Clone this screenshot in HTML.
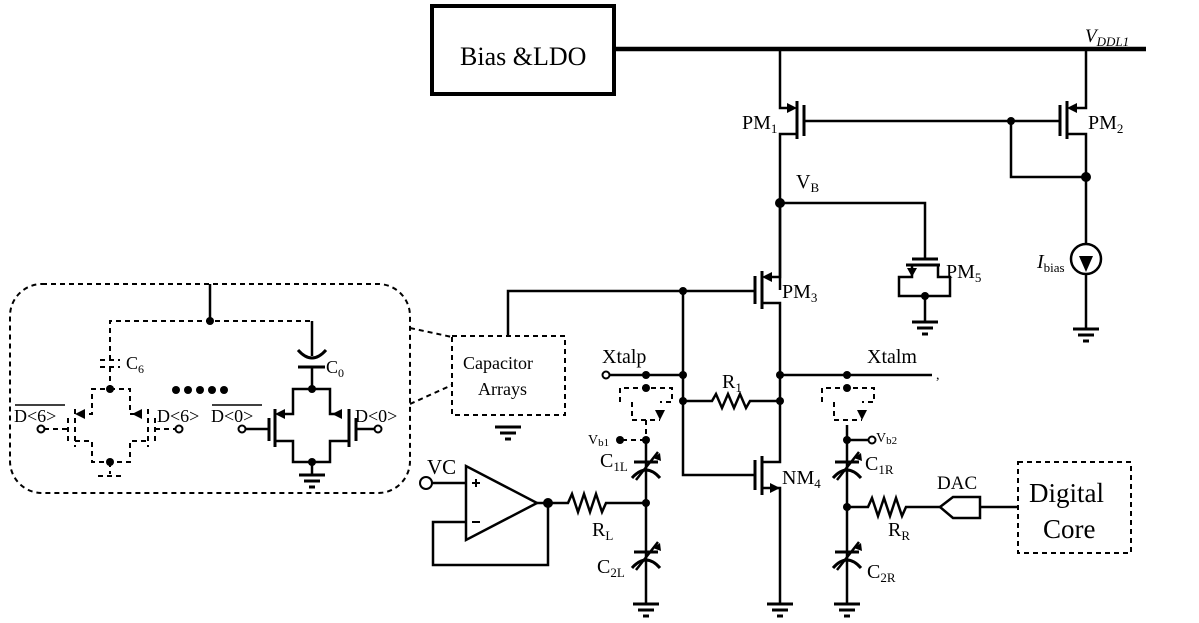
<!DOCTYPE html>
<html><head><meta charset="utf-8"><style>
html,body{margin:0;padding:0;background:#fff;}
svg{display:block;}
text{font-family:"Liberation Serif",serif;fill:#000;}
</style></head><body>
<svg width="1199" height="623" viewBox="0 0 1199 623" xmlns="http://www.w3.org/2000/svg">
<defs>
<g id="gnd"><line x1="-13" y1="0" x2="13" y2="0" stroke="#000" stroke-width="3"/><line x1="-8" y1="6" x2="8" y2="6" stroke="#000" stroke-width="3"/><line x1="-3" y1="12" x2="3" y2="12" stroke="#000" stroke-width="3"/></g>
</defs>
<g fill="none" stroke="#000" stroke-width="2.5">
<rect x="432" y="6" width="182" height="88" stroke-width="4"/>
<line x1="614" y1="49" x2="1146" y2="49" stroke-width="4.5"/>
<polyline points="780,49 780,108 792,108"/>
<line x1="797" y1="101" x2="797" y2="139" stroke-width="3"/>
<line x1="804" y1="105" x2="804" y2="136" stroke-width="3"/>
<polyline points="797,134 780,134 780,290"/>
<line x1="804" y1="121" x2="1060" y2="121"/>
<polyline points="1086,49 1086,108 1074,108"/>
<line x1="1067" y1="101" x2="1067" y2="139" stroke-width="3"/>
<line x1="1060" y1="105" x2="1060" y2="136" stroke-width="3"/>
<polyline points="1067,134 1086,134 1086,244"/>
<polyline points="1011,121 1011,177 1086,177"/>
<circle cx="1086" cy="259" r="15"/>
<line x1="1086" y1="274" x2="1086" y2="328"/>
<polyline points="780,203 925,203 925,259"/>
<line x1="912" y1="259" x2="938" y2="259" stroke-width="3"/>
<line x1="906" y1="265" x2="940" y2="265" stroke-width="3"/>
<polyline points="912,265 912,277 899,277 899,296 950,296 950,277 938,277 938,265"/>
<line x1="925" y1="296" x2="925" y2="321"/>
<polyline points="780,203 780,277 768,277"/>
<line x1="762" y1="271" x2="762" y2="309" stroke-width="3"/>
<line x1="755" y1="276" x2="755" y2="304" stroke-width="3"/>
<polyline points="762,303 780,303 780,462 762,462"/>
<polyline points="508,336 508,291 755,291"/>
<line x1="762" y1="456" x2="762" y2="495" stroke-width="3"/>
<line x1="755" y1="460" x2="755" y2="490" stroke-width="3"/>
<polyline points="762,488 780,488 780,603"/>
<polyline points="683,291 683,475 755,475"/>
<line x1="610" y1="375" x2="683" y2="375"/>
<line x1="780" y1="375" x2="932" y2="375"/>
<polyline points="683,401 712,401 716,394 722,408 728,394 734,408 740,394 746,408 750,401 780,401"/>
<line x1="646" y1="440" x2="646" y2="603"/>
<line x1="634" y1="462" x2="658" y2="462" stroke-width="3"/>
<path d="M632,478 Q646,462 660,478" stroke-width="3"/>
<line x1="636" y1="480" x2="658" y2="452"/>
<line x1="634" y1="552" x2="658" y2="552" stroke-width="3"/>
<path d="M632,568 Q646,552 660,568" stroke-width="3"/>
<line x1="636" y1="570" x2="658" y2="542"/>
<polyline points="550,503 568,503 572,494 578,512 584,494 590,512 596,494 602,512 606,503 646,503"/>
<line x1="847" y1="425" x2="847" y2="603"/>
<line x1="847" y1="440" x2="868" y2="440"/>
<line x1="835" y1="462" x2="859" y2="462" stroke-width="3"/>
<path d="M833,478 Q847,462 861,478" stroke-width="3"/>
<line x1="837" y1="480" x2="859" y2="452"/>
<line x1="835" y1="552" x2="859" y2="552" stroke-width="3"/>
<path d="M833,568 Q847,552 861,568" stroke-width="3"/>
<line x1="837" y1="570" x2="859" y2="542"/>
<polyline points="847,507 868,507 872,498 878,516 884,498 890,516 896,498 902,516 906,507 940,507"/>
<polygon points="940,507 953,497 980,497 980,518 953,518"/>
<line x1="980" y1="507" x2="1018" y2="507"/>
<polygon points="466,466 466,540 537,503"/>
<line x1="431" y1="483" x2="466" y2="483"/>
<line x1="537" y1="503" x2="550" y2="503"/>
<polyline points="548,503 548,565 433,565 433,522 466,522"/>
<line x1="472" y1="483" x2="480" y2="483" stroke-width="2"/><line x1="476" y1="479" x2="476" y2="487" stroke-width="2"/>
<line x1="472" y1="522" x2="480" y2="522" stroke-width="2"/>
<line x1="210" y1="284" x2="210" y2="321"/>
<line x1="312" y1="321" x2="312" y2="356"/>
<path d="M298,350 Q312,366 326,350" stroke-width="3"/>
<line x1="298" y1="367" x2="325" y2="367" stroke-width="3"/>
<polyline points="312,367 312,389 293,389 293,414 283,414"/>
<polyline points="312,389 330,389 330,414 341,414"/>
<line x1="275" y1="409" x2="275" y2="447" stroke-width="3"/>
<line x1="269" y1="418" x2="269" y2="441" stroke-width="3"/>
<line x1="246" y1="429" x2="269" y2="429"/>
<polyline points="275,441 293,441 293,462 330,462 330,441 349,441"/>
<line x1="349" y1="409" x2="349" y2="447" stroke-width="3"/>
<line x1="356" y1="418" x2="356" y2="441" stroke-width="3"/>
<line x1="356" y1="429" x2="375" y2="429"/>
<line x1="312" y1="462" x2="312" y2="474"/>
</g>
<g fill="none" stroke="#000" stroke-width="2" stroke-dasharray="5,4">
<rect x="10" y="284" width="400" height="209" rx="32"/>
<line x1="410" y1="328" x2="452" y2="337"/>
<line x1="410" y1="404" x2="452" y2="385"/>
<rect x="452" y="336" width="113" height="79"/>
<polyline points="110,360 110,321 312,321"/>
<line x1="100" y1="360" x2="120" y2="360"/>
<line x1="100" y1="367" x2="120" y2="367"/>
<polyline points="110,367 110,389 92,389 92,414 82,414"/>
<polyline points="110,389 130,389 130,414 140,414"/>
<line x1="75" y1="409" x2="75" y2="447"/>
<line x1="68" y1="418" x2="68" y2="441"/>
<line x1="44" y1="429" x2="68" y2="429"/>
<polyline points="75,441 92,441 92,462 130,462 130,441 148,441"/>
<line x1="148" y1="409" x2="148" y2="447"/>
<line x1="155" y1="418" x2="155" y2="441"/>
<line x1="155" y1="429" x2="176" y2="429"/>
<line x1="110" y1="462" x2="110" y2="474"/>
<line x1="98" y1="476" x2="122" y2="476"/>
<rect x="1018" y="462" width="113" height="91"/>
<polyline points="620,402 620,388 672,388 672,402 660,402"/>
<polyline points="632,402 632,420 660,420"/>
<line x1="646" y1="420" x2="646" y2="440"/>
<line x1="622" y1="440" x2="646" y2="440"/>
<polyline points="822,402 822,388 874,388 874,402 862,402"/>
<polyline points="834,402 834,420 862,420"/>
</g>
<g fill="#000">
<polygon points="797,108 787,103 787,113"/>
<polygon points="1067,108 1077,103 1077,113"/>
<polygon points="762,277 772,272 772,282"/>
<polygon points="780,488 770,483 770,493"/>
<polygon points="912,277 907,268 917,268"/>
<polygon points="1086,272 1079,256 1093,256"/>
<polygon points="660,453 653,458 661,461"/>
<polygon points="861,453 854,458 862,461"/>
<polygon points="660,543 653,548 661,551"/>
<polygon points="861,543 854,548 862,551"/>
<polygon points="275,414 285,409 285,419"/>
<polygon points="332,414 342,409 342,419"/>
<polygon points="75,414 85,409 85,419"/>
<polygon points="132,414 142,409 142,419"/>
<polygon points="660,420 655,410 665,410"/>
<polygon points="862,420 857,410 867,410"/>
</g>
<g fill="#000">
<circle cx="780" cy="203" r="5"/><circle cx="1011" cy="121" r="4"/><circle cx="1086" cy="177" r="5"/>
<circle cx="925" cy="296" r="4"/><circle cx="683" cy="291" r="4"/><circle cx="683" cy="375" r="4"/>
<circle cx="683" cy="401" r="4"/><circle cx="780" cy="375" r="4"/><circle cx="780" cy="401" r="4"/>
<circle cx="646" cy="375" r="4"/><circle cx="646" cy="388" r="4"/><circle cx="646" cy="440" r="4"/>
<circle cx="620" cy="440" r="4"/><circle cx="646" cy="503" r="4"/>
<circle cx="847" cy="375" r="4"/><circle cx="847" cy="388" r="4"/><circle cx="847" cy="440" r="4"/>
<circle cx="847" cy="507" r="4"/><circle cx="548" cy="503" r="5"/>
<circle cx="210" cy="321" r="4"/><circle cx="312" cy="389" r="4"/><circle cx="312" cy="462" r="4"/>
<circle cx="110" cy="389" r="4"/><circle cx="110" cy="462" r="4"/>
<circle cx="176" cy="390" r="4"/><circle cx="188" cy="390" r="4"/><circle cx="200" cy="390" r="4"/><circle cx="212" cy="390" r="4"/><circle cx="224" cy="390" r="4"/>
</g>
<g fill="#fff" stroke="#000" stroke-width="2">
<circle cx="606" cy="375" r="3.5"/><circle cx="872" cy="440" r="3.5"/>
<circle cx="426" cy="483" r="6"/><circle cx="242" cy="429" r="3.5"/><circle cx="378" cy="429" r="3.5"/>
<circle cx="41" cy="429" r="3.5"/><circle cx="179" cy="429" r="3.5"/>
</g>
<text x="936" y="379" font-size="14">,</text>
<use href="#gnd" x="1086" y="329"/><use href="#gnd" x="925" y="322"/><use href="#gnd" x="780" y="604"/>
<use href="#gnd" x="646" y="604"/><use href="#gnd" x="847" y="604"/><use href="#gnd" x="508" y="427"/>
<use href="#gnd" x="312" y="475"/>
<text x="460" y="65" font-size="26">Bias &amp;LDO</text>
<text x="1085" y="42" font-size="19" font-style="italic" font-family="Liberation Sans,sans-serif">V<tspan font-size="13" dy="4">DDL1</tspan></text>
<text x="742" y="129" font-size="20">PM<tspan font-size="13" dy="4">1</tspan></text>
<text x="1088" y="129" font-size="20">PM<tspan font-size="13" dy="4">2</tspan></text>
<text x="796" y="188" font-size="20">V<tspan font-size="13" dy="4">B</tspan></text>
<text x="782" y="298" font-size="20">PM<tspan font-size="13" dy="4">3</tspan></text>
<text x="946" y="278" font-size="20">PM<tspan font-size="13" dy="4">5</tspan></text>
<text x="1037" y="268" font-size="20"><tspan font-style="italic">I</tspan><tspan font-size="13" dy="4">bias</tspan></text>
<text x="782" y="484" font-size="20">NM<tspan font-size="13" dy="4">4</tspan></text>
<text x="722" y="388" font-size="20">R<tspan font-size="13" dy="4">1</tspan></text>
<text x="602" y="363" font-size="20">Xtalp</text>
<text x="867" y="363" font-size="20">Xtalm</text>
<text x="588" y="444" font-size="14" font-family="Liberation Sans,sans-serif">V<tspan font-size="11" dy="2">b1</tspan></text>
<text x="876" y="442" font-size="14" font-family="Liberation Sans,sans-serif">V<tspan font-size="11" dy="2">b2</tspan></text>
<text x="600" y="467" font-size="20">C<tspan font-size="13" dy="4">1L</tspan></text>
<text x="865" y="470" font-size="20">C<tspan font-size="13" dy="4">1R</tspan></text>
<text x="592" y="536" font-size="20">R<tspan font-size="13" dy="4">L</tspan></text>
<text x="888" y="536" font-size="20">R<tspan font-size="13" dy="4">R</tspan></text>
<text x="597" y="573" font-size="20">C<tspan font-size="13" dy="4">2L</tspan></text>
<text x="867" y="578" font-size="20">C<tspan font-size="13" dy="4">2R</tspan></text>
<text x="937" y="489" font-size="19">DAC</text>
<text x="1029" y="502" font-size="27">Digital</text>
<text x="1043" y="538" font-size="27">Core</text>
<text x="427" y="474" font-size="21">VC</text>
<text x="463" y="369" font-size="18">Capacitor</text>
<text x="478" y="395" font-size="18">Arrays</text>
<text x="126" y="369" font-size="18">C<tspan font-size="12" dy="4">6</tspan></text>
<text x="326" y="373" font-size="18">C<tspan font-size="12" dy="4">0</tspan></text>
<text x="14" y="422" font-size="18">D&lt;6&gt;</text>
<line x1="15" y1="405" x2="65" y2="405" stroke="#000" stroke-width="1.5"/>
<text x="157" y="422" font-size="18">D&lt;6&gt;</text>
<text x="211" y="422" font-size="18">D&lt;0&gt;</text>
<line x1="212" y1="405" x2="262" y2="405" stroke="#000" stroke-width="1.5"/>
<text x="355" y="422" font-size="18">D&lt;0&gt;</text>
</svg>
</body></html>
